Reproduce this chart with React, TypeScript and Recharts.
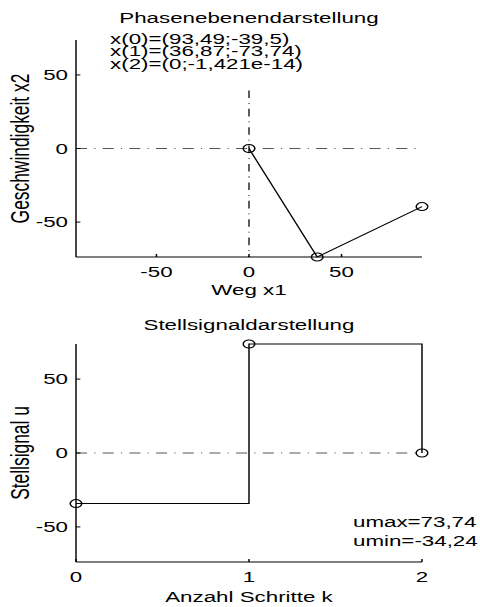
import { LineChart, Line, XAxis, YAxis, ReferenceLine } from "recharts";

// phase plane trajectory
const phaseX1 = [93.49, 36.87, 0];
const phaseX2 = [-39.5, -73.74, 0];
const phaseTicks = [-50, 0, 50];
const phaseNotes = ["x(0)=(93,49;-39,5)", "x(1)=(36,87;-73,74)", "x(2)=(0;-1,421e-14)"];

// control signal
const steps = [0, 1, 2];
const signalU = [-34.24, 73.74, 0];
const stepTicks = [0, 1, 2];
const signalNotes = ["umax=73,74", "umin=-34,24"];

const FONT = "'Liberation Sans', Arial, Helvetica, sans-serif";
const FS = 15.4;
const W = 331; // inner width, stretched horizontally to 480
const SX = 480 / W;
const DASH = "7.6 5 0.8 5";

const phaseData = phaseX1.map((x, i) => ({ x1: x, x2: phaseX2[i] }));
const signalData = steps.map((k, i) => ({ k, u: signalU[i] }));

const XTick = (props: any) => (
  <text x={props.x} y={props.y} dy="0.71em" textAnchor="middle" fontSize={FS} fontFamily={FONT} fill="#000">
    {props.payload.value}
  </text>
);

const YTick = (props: any) => (
  <text x={props.x} y={props.y} dy="0.35em" textAnchor="end" fontSize={FS} fontFamily={FONT} fill="#000">
    {props.payload.value}
  </text>
);

const Ring = (props: any) => {
  if (props.cx == null || props.cy == null) return null;
  return <circle key={props.index} cx={props.cx} cy={props.cy} r={4} fill="none" stroke="#000" strokeWidth={1} />;
};

const txt = { fontSize: FS, fontFamily: FONT, fill: "#000" };

export default function App() {
  return (
    <div
      style={{
        position: "absolute",
        left: 0,
        top: 0,
        width: W,
        height: 607,
        background: "#fff",
        transform: `scaleX(${SX})`,
        transformOrigin: "0 0",
      }}
    >
      <LineChart width={W} height={300} data={phaseData} margin={{ top: 40, right: 40, left: 12.4, bottom: 13 }}>
        <XAxis
          dataKey="x1"
          type="number"
          domain={[-93.49, 93.49]}
          ticks={phaseTicks}
          height={30}
          tickSize={-3}
          tickMargin={12}
          tick={<XTick />}
          axisLine={{ stroke: "#000" }}
          tickLine={{ stroke: "#000" }}
        />
        <YAxis
          type="number"
          domain={[-73.74, 73.74]}
          ticks={phaseTicks}
          width={40}
          tickSize={-3}
          tickMargin={8.5}
          tick={<YTick />}
          axisLine={{ stroke: "#000" }}
          tickLine={{ stroke: "#000" }}
        />
        <ReferenceLine y={0} stroke="#555" strokeDasharray={DASH} />
        <ReferenceLine segment={[{ x: 0, y: 39.5 }, { x: 0, y: -73.74 }]} stroke="#222" strokeDasharray={DASH} />
        <Line dataKey="x2" type="linear" stroke="#000" strokeWidth={1} dot={<Ring />} activeDot={false} isAnimationActive={false} />
        <text x={171.7} y={23.3} textAnchor="middle" {...txt}>Phasenebenendarstellung</text>
        {phaseNotes.map((s, i) => (
          <text key={s} x={75.9} y={44 + i * 12.5} {...txt}>{s}</text>
        ))}
        <text x={171.7} y={295} textAnchor="middle" {...txt}>Weg x1</text>
        <text x={20} y={148.5} textAnchor="middle" transform="rotate(-90, 20, 148.5)" {...txt} fontSize={17.4}>
          Geschwindigkeit x2
        </text>
      </LineChart>
      <LineChart width={W} height={307} data={signalData} margin={{ top: 44, right: 40, left: 12.4, bottom: 15 }}>
        <XAxis
          dataKey="k"
          type="number"
          domain={[0, 2]}
          ticks={stepTicks}
          height={30}
          tickSize={-3}
          tickMargin={12}
          tick={<XTick />}
          axisLine={{ stroke: "#000" }}
          tickLine={{ stroke: "#000" }}
        />
        <YAxis
          type="number"
          domain={[-73.74, 73.74]}
          ticks={phaseTicks}
          width={40}
          tickSize={-3}
          tickMargin={8.5}
          tick={<YTick />}
          axisLine={{ stroke: "#000" }}
          tickLine={{ stroke: "#000" }}
        />
        <ReferenceLine y={0} stroke="#555" strokeDasharray={DASH} />
        <Line dataKey="u" type="stepAfter" stroke="#000" strokeWidth={1} dot={<Ring />} activeDot={false} isAnimationActive={false} />
        <text x={171.7} y={30} textAnchor="middle" {...txt}>Stellsignaldarstellung</text>
        {signalNotes.map((s, i) => (
          <text key={s} x={243.4} y={227 + i * 19} {...txt}>{s}</text>
        ))}
        <text x={171.7} y={301.7} textAnchor="middle" {...txt}>Anzahl Schritte k</text>
        <text x={20} y={153} textAnchor="middle" transform="rotate(-90, 20, 153)" {...txt} fontSize={17.4}>
          Stellsignal u
        </text>
      </LineChart>
    </div>
  );
}
